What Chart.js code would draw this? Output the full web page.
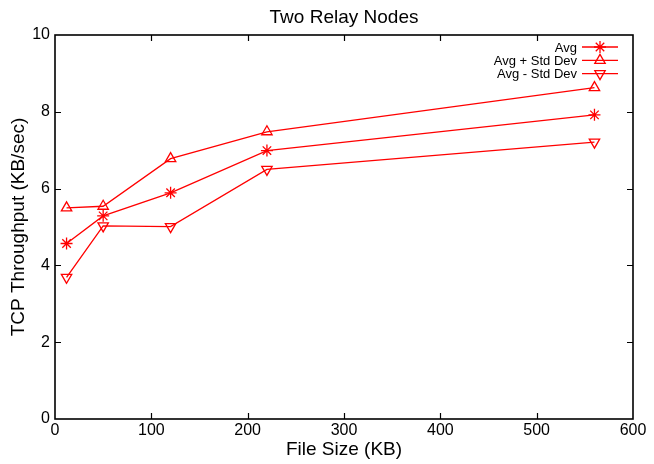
<!DOCTYPE html>
<html>
<head>
<meta charset="utf-8">
<title>Two Relay Nodes</title>
<script src="https://cdn.jsdelivr.net/npm/chart.js@4.4.1/dist/chart.umd.min.js"></script>
<style>
  html, body { margin: 0; padding: 0; background: #fff; }
  #wrap { width: 654px; height: 464px; }
</style>
</head>
<body>
<div id="wrap"><canvas id="place__graph1"></canvas></div>
<script>
// file sizes (KB) on the x axis
const fileSizes = [12, 50, 120, 220, 560];

// TCP throughput (KB/sec)
const avgValues   = [4.57, 5.29, 5.89, 6.99, 7.92];
const avgPlusStd  = [5.50, 5.54, 6.78, 7.48, 8.63];
const avgMinusStd = [3.69, 5.03, 5.01, 6.50, 7.21];

const seriesLabels = ['Avg', 'Avg + Std Dev', 'Avg - Std Dev'];

// tick labels
const xTickValues = [0, 100, 200, 300, 400, 500, 600];
const yTickValues = [0, 2, 4, 6, 8, 10];

const FONT = '"Liberation Sans", Arial, Helvetica, sans-serif';
const RED = '#ff0000';

Chart.defaults.color = '#000';
Chart.defaults.font.family = FONT;

function toPoints(values) {
    return fileSizes.map((x, i) => ({ x: x, y: values[i] }));
}

function makeDataset(label, values, style, rotation) {
    return {
        label: label,
        data: toPoints(values),
        borderColor: RED,
        borderWidth: 1.3,
        pointStyle: style,
        pointRotation: rotation,
        pointRadius: 6,
        pointHoverRadius: 6,
        pointBorderWidth: 1.3,
        pointBorderColor: RED,
        pointBackgroundColor: 'rgba(0,0,0,0)',
        tension: 0,
        fill: false
    };
}

// box round the plot with inward ticks on all four sides (gnuplot look)
const frameTicks = {
    id: 'frameTicks',
    afterDatasetsDraw(chart) {
        const { ctx, chartArea: a, scales: { x, y } } = chart;
        const len = 6;
        ctx.save();
        ctx.strokeStyle = '#000';
        ctx.lineWidth = 1.2;
        ctx.beginPath();
        x.ticks.forEach(t => {
            if (t.value === x.min || t.value === x.max) return;
            const px = Math.round(x.getPixelForValue(t.value)) + 0.5;
            ctx.moveTo(px, a.bottom); ctx.lineTo(px, a.bottom - len);
            ctx.moveTo(px, a.top); ctx.lineTo(px, a.top + len);
        });
        y.ticks.forEach(t => {
            if (t.value === y.min || t.value === y.max) return;
            const py = Math.round(y.getPixelForValue(t.value)) + 0.5;
            ctx.moveTo(a.left, py); ctx.lineTo(a.left + len, py);
            ctx.moveTo(a.right, py); ctx.lineTo(a.right - len, py);
        });
        ctx.stroke();
        ctx.lineWidth = 1.6;
        ctx.strokeRect(a.left, a.top, a.right - a.left, a.bottom - a.top);
        ctx.restore();
    }
};

// legend inside the top right corner: text, then line sample with marker
const sideLegend = {
    id: 'sideLegend',
    afterDatasetsDraw(chart) {
        const { ctx, chartArea: a } = chart;
        ctx.save();
        ctx.font = '13px ' + FONT;
        ctx.textAlign = 'right';
        ctx.textBaseline = 'middle';
        chart.data.datasets.forEach((ds, i) => {
            const yy = a.top + 12 + i * 13.3;
            ctx.fillStyle = '#000';
            ctx.fillText(ds.label, a.right - 56, yy + 1);
            ctx.strokeStyle = ds.borderColor;
            ctx.lineWidth = ds.borderWidth;
            ctx.beginPath();
            ctx.moveTo(a.right - 51, yy);
            ctx.lineTo(a.right - 15, yy);
            ctx.stroke();
            if (Chart.helpers && Chart.helpers.drawPoint) {
                ctx.fillStyle = 'rgba(0,0,0,0)';
                ctx.lineWidth = ds.pointBorderWidth;
                Chart.helpers.drawPoint(ctx, {
                    pointStyle: ds.pointStyle,
                    rotation: ds.pointRotation,
                    radius: ds.pointRadius,
                    borderWidth: ds.pointBorderWidth
                }, a.right - 33, yy);
            }
        });
        ctx.restore();
    }
};

const ctx = document.getElementById('place__graph1').getContext('2d');
const chart = new Chart(ctx, {
    type: 'line',
    data: {
        datasets: [
            makeDataset(seriesLabels[0], avgValues, 'star', 0),
            makeDataset(seriesLabels[1], avgPlusStd, 'triangle', 0),
            makeDataset(seriesLabels[2], avgMinusStd, 'triangle', 180)
        ]
    },
    options: {
        responsive: true,
        maintainAspectRatio: false,
        animation: false,
        events: [],
        layout: { padding: { left: 0, right: 21, top: 0, bottom: 0 } },
        plugins: {
            legend: { display: false },
            tooltip: { enabled: false },
            title: {
                display: true,
                text: 'Two Relay Nodes',
                fullSize: false,
                color: '#000',
                font: { size: 19, weight: 'normal' },
                padding: { top: 6.6, bottom: 5.6 }
            }
        },
        scales: {
            x: {
                type: 'linear',
                min: 0,
                max: 600,
                afterFit(scale) { scale.height = 45; },
                afterBuildTicks(scale) { scale.ticks = xTickValues.map(v => ({ value: v })); },
                grid: { display: false, drawTicks: false },
                border: { display: false },
                ticks: { color: '#000', font: { size: 16 }, padding: 2, maxRotation: 0, autoSkip: false },
                title: {
                    display: true,
                    text: 'File Size (KB)',
                    color: '#000',
                    font: { size: 19 },
                    padding: { top: 0, bottom: 3 }
                }
            },
            y: {
                type: 'linear',
                min: 0,
                max: 10,
                afterFit(scale) { scale.width = 55; },
                afterBuildTicks(scale) { scale.ticks = yTickValues.map(v => ({ value: v })); },
                grid: { display: false, drawTicks: false },
                border: { display: false },
                ticks: { color: '#000', font: { size: 16 }, padding: 5, autoSkip: false },
                title: {
                    display: true,
                    text: 'TCP Throughput (KB/sec)',
                    color: '#000',
                    font: { size: 19 },
                    padding: { top: 6.9, bottom: 0 }
                }
            }
        }
    },
    plugins: [frameTicks, sideLegend]
});
</script>
</body>
</html>
